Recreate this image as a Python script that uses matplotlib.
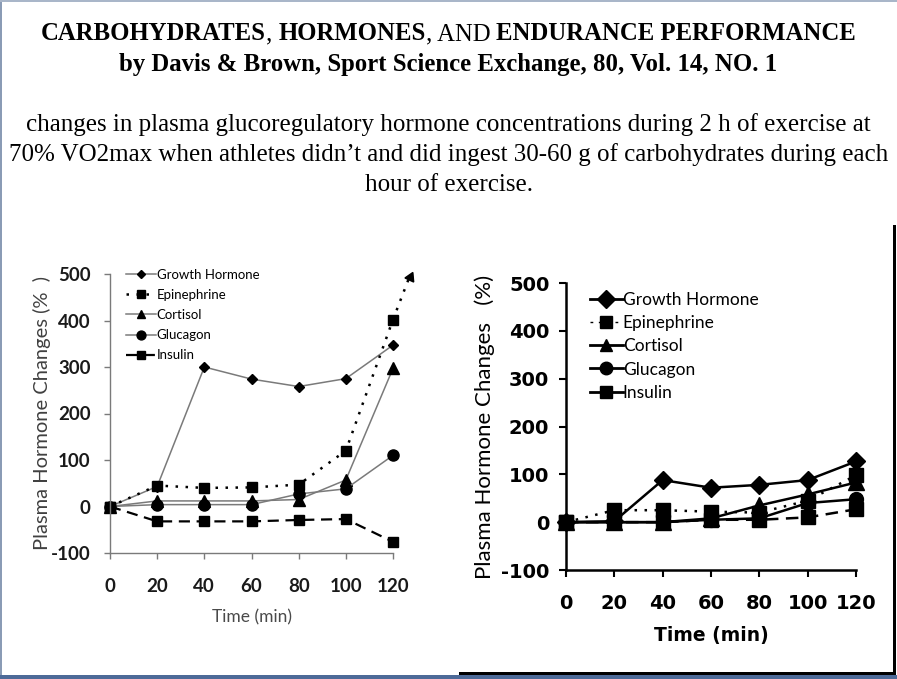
import matplotlib
matplotlib.use("Agg")
import matplotlib.pyplot as plt
from matplotlib.patches import Rectangle
from matplotlib.lines import Line2D

plt.rcParams["axes.unicode_minus"] = False

# ---------------- data ----------------
time_min = [0, 20, 40, 60, 80, 100, 120]
hormones = ["Growth Hormone", "Epinephrine", "Cortisol", "Glucagon", "Insulin"]

# left panel: no carbohydrate
gh_no = [0, 43, 300, 274, 258, 275, 347]
epi_no = [0, 45, 40, 41, 47, 120, 402]
cort_no = [0, 12, 12, 12, 15, 57, 297]
gluc_no = [0, 4, 4, 4, 27, 38, 110]
ins_no = [0, -32, -32, -32, -29, -27, -76]
epi_no_arrow_x = [120, 127]
epi_no_arrow_y = [402, 494]

# right panel: carbohydrate ingested
gh_cho = [0, 2, 88, 72, 78, 88, 127]
epi_cho = [0, 25, 25, 22, 20, 45, 98]
cort_cho = [0, 0, 0, 8, 35, 58, 83]
gluc_cho = [0, 0, 0, 5, 8, 40, 48]
ins_cho = [0, 0, 0, 5, 5, 10, 27]

y_ticks = [-100, 0, 100, 200, 300, 400, 500]
x_ticks = [0, 20, 40, 60, 80, 100, 120]

title_parts_1 = [("CARBOHYDRATES", "bold"), (", ", "normal"), ("HORMONES", "bold"),
                 (", AND ", "normal"), ("ENDURANCE PERFORMANCE", "bold")]
title_line_2 = "by Davis & Brown, Sport Science Exchange, 80, Vol. 14, NO. 1"
para_lines = ["changes in plasma glucoregulatory hormone concentrations during 2 h of exercise at",
              "70% VO2max when athletes didn\u2019t and did ingest 30-60 g of carbohydrates during each",
              "hour of exercise."]

W, H = 897, 679
fig = plt.figure(figsize=(W / 100, H / 100), dpi=100)
fig.patch.set_facecolor("white")

def fx(px):
    return px / W

def fy(py):
    return 1 - py / H

# ---------------- slide frame ----------------
fig.add_artist(Rectangle((0, fy(679)), fx(2), 1, transform=fig.transFigure, color="#8a9bb5", lw=0))
fig.add_artist(Rectangle((0, fy(2)), 1, 2 / H, transform=fig.transFigure, color="#a9b6c9", lw=0))
fig.add_artist(Rectangle((0, 0), 1, 4 / H, transform=fig.transFigure, color="#4d6a98", lw=0))
# right picture frame
fig.add_artist(Rectangle((fx(893), fy(674)), fx(3), (674 - 225) / H, transform=fig.transFigure, color="black", lw=0))
fig.add_artist(Rectangle((fx(459), fy(675)), fx(437), 3 / H, transform=fig.transFigure, color="black", lw=0))

# ---------------- titles ----------------
serif = "Liberation Serif"
fig.canvas.draw()
renderer = fig.canvas.get_renderer()

def rich_line(parts, baseline_px, size):
    texts = [fig.text(0, fy(baseline_px), s, fontsize=size, fontweight=w, family=serif,
                      va="baseline", ha="left") for s, w in parts]
    widths = [t.get_window_extent(renderer).width for t in texts]
    x = (W - sum(widths)) / 2
    for t, wd in zip(texts, widths):
        t.set_x(fx(x))
        x += wd

rich_line(title_parts_1, 40, 17.8)
fig.text(0.5, fy(71), title_line_2, fontsize=17.8, fontweight="bold", family=serif,
         ha="center", va="baseline")
for i, ln in enumerate(para_lines):
    fig.text(0.5, fy(131 + 30 * i), ln, fontsize=18, family=serif, ha="center", va="baseline")

# ---------------- left panel ----------------
axL = fig.add_axes([fx(110), fy(553), fx(283), 279 / H])
grey = "#7a7a7a"
kw = dict(clip_on=False, markerfacecolor="black", markeredgecolor="black")
axL.plot(time_min, gh_no, color=grey, lw=1.1, marker="D", ms=5, label=hormones[0], **kw)
axL.plot(time_min, epi_no, color="black", lw=1.8, ls=(0, (1, 3)), marker="s", ms=7, label=hormones[1], **kw)
axL.plot(time_min, cort_no, color=grey, lw=1.1, marker="^", ms=8, label=hormones[2], **kw)
axL.plot(time_min, gluc_no, color=grey, lw=1.1, marker="o", ms=8, label=hormones[3], **kw)
axL.plot(time_min, ins_no, color="black", lw=1.6, ls=(0, (5, 3)), marker="s", ms=7, label=hormones[4], **kw)
axL.plot(epi_no_arrow_x, epi_no_arrow_y, color="black", lw=1.8, ls=(0, (1, 3)), clip_on=False)
axL.plot(epi_no_arrow_x[-1:], epi_no_arrow_y[-1:], ls="none", marker=(3, 0, -25), ms=8,
         color="black", clip_on=False)
axL.set_xlim(0, 120)
axL.set_ylim(-100, 500)
axL.set_xticks(x_ticks)
axL.set_yticks(y_ticks)
for s in ["top", "right"]:
    axL.spines[s].set_visible(False)
for s in ["left", "bottom"]:
    axL.spines[s].set_color(grey)
    axL.spines[s].set_linewidth(1)
axL.tick_params(axis="both", direction="out", length=4, width=1, color=grey, labelcolor="#1a1a1a")
axL.tick_params(axis="x", pad=14)
axL.tick_params(axis="y", pad=10)
for lab in axL.get_xticklabels() + axL.get_yticklabels():
    lab.set_fontfamily("Lato")
    lab.set_fontweight("bold")
    lab.set_fontsize(13.5)
axL.set_xlabel("Time (min)", fontsize=12.5, family="Lato", color="#4a4a4a", labelpad=10)
axL.set_ylabel("Plasma Hormone Changes (%  )", fontsize=14.5, family="Lato", color="#404040", labelpad=0)
axL.patch.set_alpha(0)
axL.legend(loc="upper left", bbox_to_anchor=(fx(119), fy(262)), bbox_transform=fig.transFigure,
           frameon=False, prop={"family": "Lato", "size": 9.5}, handlelength=2.3,
           handletextpad=0.05, labelspacing=0.62, borderpad=0, markerscale=0.8)

# ---------------- right panel ----------------
axR = fig.add_axes([fx(566), fy(570), fx(290), 287 / H])
kw2 = dict(clip_on=False, color="black")
axR.plot(time_min, gh_cho, lw=1.8, marker="D", ms=9, label=hormones[0], **kw2)
axR.plot(time_min, epi_cho, lw=1.8, ls=(0, (1, 3)), marker="s", ms=10, label=hormones[1], **kw2)
axR.plot(time_min, cort_cho, lw=1.8, marker="^", ms=11, label=hormones[2], **kw2)
axR.plot(time_min, gluc_cho, lw=1.8, marker="o", ms=10, label=hormones[3], **kw2)
axR.plot(time_min, ins_cho, lw=1.8, ls=(0, (5, 3)), marker="s", ms=10, label=hormones[4], **kw2)
axR.set_xlim(0, 120)
axR.set_ylim(-100, 500)
axR.set_xticks(x_ticks)
axR.set_yticks(y_ticks)
for s in ["top", "right"]:
    axR.spines[s].set_visible(False)
for s in ["left", "bottom"]:
    axR.spines[s].set_color("black")
    axR.spines[s].set_linewidth(1.8)
axR.tick_params(axis="both", direction="out", length=5, width=1.5, color="black", labelcolor="black")
axR.tick_params(axis="x", pad=12)
axR.tick_params(axis="y", pad=7)
for lab in axR.get_xticklabels() + axR.get_yticklabels():
    lab.set_fontfamily("DejaVu Sans")
    lab.set_fontweight("bold")
    lab.set_fontsize(14)
axR.set_xlabel("Time (min)", fontsize=13.5, family="DejaVu Sans", fontweight="bold", labelpad=10)
axR.set_ylabel("Plasma Hormone Changes   (%)", fontsize=16, family="Lato", labelpad=4)
axR.patch.set_alpha(0)
handlesR = [Line2D([], [], color="black", lw=2, marker="D", ms=9),
            Line2D([], [], color="black", lw=1, ls=(0, (2, 4)), marker="s", ms=8),
            Line2D([], [], color="black", lw=2, marker="^", ms=9),
            Line2D([], [], color="black", lw=2, marker="o", ms=9),
            Line2D([], [], color="black", lw=2, marker="s", ms=9)]
axR.legend(handlesR, hormones, loc="upper left", bbox_to_anchor=(fx(581), fy(283)),
           bbox_transform=fig.transFigure, frameon=False, prop={"family": "Lato", "size": 12.5},
           handlelength=1.9, handletextpad=0.0, labelspacing=0.42, borderpad=0)

fig.savefig("out.png", dpi=100, facecolor="white")
